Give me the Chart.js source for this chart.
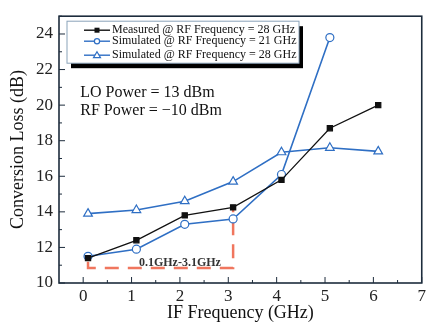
<!DOCTYPE html>
<html>
<head>
<meta charset="utf-8">
<script src="https://cdn.jsdelivr.net/npm/chart.js@4/dist/chart.umd.min.js"></script>
<style>
  html, body { margin: 0; padding: 0; background: #fff; }
  #wrap { width: 429px; height: 322px; }
</style>
</head>
<body>
<div id="wrap"><canvas id="chart" width="429" height="322"></canvas></div>
<script>
// IF frequency points (GHz)
const ifFreq = [0.1, 1.1, 2.1, 3.1, 4.1, 5.1, 6.1];
// conversion loss (dB)
const measured28 = [11.4, 12.4, 13.8, 14.25, 15.8, 18.7, 20.0];
const simulated21 = [11.5, 11.9, 13.3, 13.6, 16.1, 23.8];
const simulated28 = [13.9, 14.1, 14.6, 15.7, 17.35, 17.6, 17.4];
// dashed bracket marking the 0.1-3.1 GHz band
const bandX = [0.1, 0.1, 3.1, 3.1];
const bandY = [11.2, 10.85, 10.85, 14.1];

const seriesLabels = [
  'Measured @ RF Frequency = 28 GHz',
  'Simulated @ RF Frequency = 21 GHz',
  'Simulated @ RF Frequency = 28 GHz'
];
const xTicks = [0, 1, 2, 3, 4, 5, 6, 7];
const yTicks = [10, 12, 14, 16, 18, 20, 22, 24];
const noteLines = ['LO Power = 13 dBm', 'RF Power = \u221210 dBm'];
const bandLabel = '0.1GHz-3.1GHz';

const serif = '"Liberation Serif", "DejaVu Serif", serif';
const blue = '#2f6fc4';
const frameColor = '#1d2c3c';

const toPoints = (xs, ys) => ys.map((y, i) => ({ x: xs[i], y: y }));

// inward tick marks + plot frame
const framePlugin = {
  id: 'frame',
  afterDraw(chart) {
    const ctx = chart.ctx;
    const a = chart.chartArea;
    const xs = chart.scales.x;
    const ys = chart.scales.y;
    ctx.save();
    ctx.strokeStyle = frameColor;
    ctx.lineWidth = 1;
    for (let v = 0; v <= 7; v += 0.5) {
      const px = xs.getPixelForValue(v);
      const len = Number.isInteger(v) ? 6 : 3;
      ctx.beginPath();
      ctx.moveTo(px, a.bottom);
      ctx.lineTo(px, a.bottom - len);
      ctx.stroke();
    }
    for (let v = 10; v <= 25; v += 1) {
      const py = ys.getPixelForValue(v);
      const len = v % 2 === 0 ? 6 : 3;
      ctx.beginPath();
      ctx.moveTo(a.left, py);
      ctx.lineTo(a.left + len, py);
      ctx.stroke();
    }
    ctx.lineWidth = 1.6;
    ctx.strokeRect(a.left, a.top, a.right - a.left, a.bottom - a.top);
    ctx.restore();
  }
};

// legend box with drop shadow, notes and band label
const notesPlugin = {
  id: 'notes',
  afterDatasetsDraw(chart) {
    const ctx = chart.ctx;
    const a = chart.chartArea;
    const xs = chart.scales.x;
    const ys = chart.scales.y;
    ctx.save();

    // text notes
    ctx.fillStyle = '#111';
    ctx.font = '16px ' + serif;
    ctx.textBaseline = 'middle';
    ctx.textAlign = 'left';
    ctx.fillText(noteLines[0], xs.getPixelForValue(-0.06), ys.getPixelForValue(20.7));
    ctx.fillText(noteLines[1], xs.getPixelForValue(-0.06), ys.getPixelForValue(19.67));

    ctx.font = 'bold 12px ' + serif;
    ctx.fillStyle = '#333';
    ctx.textAlign = 'center';
    ctx.fillText(bandLabel, xs.getPixelForValue(2.0), ys.getPixelForValue(11.15));

    // legend
    const bx = a.left + 8, by = a.top + 5, bw = 232, bh = 42;
    ctx.fillStyle = '#000';
    ctx.fillRect(bx + 4, by + 5, bw, bh);
    ctx.fillStyle = '#fff';
    ctx.fillRect(bx, by, bw, bh);
    ctx.strokeStyle = '#8aa3ba';
    ctx.lineWidth = 1;
    ctx.strokeRect(bx, by, bw, bh);

    ctx.font = '12px ' + serif;
    ctx.textAlign = 'left';
    const rows = [by + 9, by + 20, by + 34];
    chart.data.datasets.slice(0, 3).forEach((ds, i) => {
      const y = rows[i];
      const x0 = bx + 17, x1 = bx + 43;
      ctx.strokeStyle = ds.borderColor;
      ctx.lineWidth = 1.4;
      ctx.beginPath();
      ctx.moveTo(x0, y);
      ctx.lineTo(x1, y);
      ctx.stroke();
      const cx = (x0 + x1) / 2;
      ctx.lineWidth = 1.2;
      if (ds.pointStyle === 'rect') {
        ctx.fillStyle = ds.pointBackgroundColor;
        ctx.fillRect(cx - 2.5, y - 2.5, 5, 5);
      } else if (ds.pointStyle === 'circle') {
        ctx.fillStyle = '#fff';
        ctx.beginPath();
        ctx.arc(cx, y, 2.6, 0, Math.PI * 2);
        ctx.fill();
        ctx.stroke();
      } else {
        ctx.fillStyle = '#fff';
        ctx.beginPath();
        ctx.moveTo(cx, y - 3.5);
        ctx.lineTo(cx + 3.5, y + 2.5);
        ctx.lineTo(cx - 3.5, y + 2.5);
        ctx.closePath();
        ctx.fill();
        ctx.stroke();
      }
      ctx.fillStyle = '#111';
      ctx.fillText(ds.label, x1 + 2, y);
    });
    ctx.restore();
  }
};

new Chart(document.getElementById('chart'), {
  type: 'scatter',
  data: {
    datasets: [
      {
        label: seriesLabels[0],
        data: toPoints(ifFreq, measured28),
        showLine: true,
        borderColor: '#111',
        borderWidth: 1.3,
        pointStyle: 'rect',
        pointRadius: 3.6,
        pointBackgroundColor: '#111',
        pointBorderColor: '#111'
      },
      {
        label: seriesLabels[1],
        data: toPoints(ifFreq, simulated21),
        showLine: true,
        borderColor: blue,
        borderWidth: 1.6,
        pointStyle: 'circle',
        pointRadius: 4,
        pointBorderWidth: 1.2,
        pointBackgroundColor: '#fff',
        pointBorderColor: blue
      },
      {
        label: seriesLabels[2],
        data: toPoints(ifFreq, simulated28),
        showLine: true,
        borderColor: blue,
        borderWidth: 1.6,
        pointStyle: 'triangle',
        pointRadius: 5,
        pointBorderWidth: 1.2,
        pointBackgroundColor: '#fff',
        pointBorderColor: blue
      },
      {
        label: 'band',
        data: toPoints(bandX, bandY),
        showLine: true,
        borderColor: '#f0765e',
        borderWidth: 2.5,
        borderDash: [14, 9],
        pointRadius: 0
      }
    ]
  },
  options: {
    responsive: false,
    animation: false,
    layout: { padding: { top: 10, right: 6, left: 0, bottom: 0 } },
    plugins: {
      legend: { display: false },
      tooltip: { enabled: false }
    },
    scales: {
      x: {
        type: 'linear',
        min: -0.5,
        max: 7,
        afterBuildTicks: (scale) => { scale.ticks = xTicks.map(v => ({ value: v })); },
        afterFit: (scale) => { scale.height = 39; },
        grid: { display: false, drawTicks: false },
        border: { display: false },
        ticks: {
          color: '#222',
          padding: 3,
          maxRotation: 0,
          font: { family: serif, size: 17 }
        },
        title: {
          display: true,
          text: 'IF Frequency (GHz)',
          color: '#111',
          font: { family: serif, size: 18 },
          padding: { top: 0, bottom: -2 }
        }
      },
      y: {
        type: 'linear',
        min: 10,
        max: 25,
        afterBuildTicks: (scale) => { scale.ticks = yTicks.map(v => ({ value: v })); },
        afterFit: (scale) => { scale.width = 59; },
        grid: { display: false, drawTicks: false },
        border: { display: false },
        ticks: {
          color: '#222',
          padding: 6,
          font: { family: serif, size: 17 }
        },
        title: {
          display: true,
          text: 'Conversion Loss (dB)',
          color: '#111',
          font: { family: serif, size: 18 },
          padding: { top: 7, bottom: 0 }
        }
      }
    }
  },
  plugins: [framePlugin, notesPlugin]
});
</script>
</body>
</html>
